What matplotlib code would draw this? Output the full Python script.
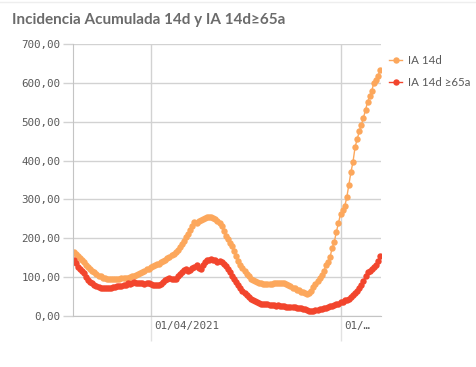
import matplotlib
matplotlib.use("Agg")
import matplotlib.pyplot as plt
import matplotlib.transforms as mtransforms
import pandas as pd

start_date = "2021-02-23"

ia14 = [165, 160, 155, 150, 145, 138, 132, 127, 122, 117,
        112, 108, 104, 102, 99, 97, 96, 95, 94, 95,
        95, 96, 96, 97, 98, 97, 99, 101, 102, 104,
        106, 108, 111, 114, 117, 120, 122, 125, 128, 130,
        133, 135, 138, 141, 145, 148, 152, 156, 160, 164,
        170, 178, 186, 194, 203, 212, 222, 232, 242, 240,
        244, 246, 250, 253, 255, 256, 255, 253, 250, 245,
        239, 232, 220, 207, 198, 189, 181, 168, 155, 142,
        130, 123, 116, 109, 102, 96, 92, 89, 87, 85,
        84, 83, 82, 82, 82, 83, 84, 85, 85, 86,
        85, 84, 82, 79, 76, 73, 71, 68, 66, 63,
        61, 58, 56, 60, 65, 75, 82, 90, 97, 105,
        116, 130, 140, 152, 175, 190, 216, 239, 262, 272,
        282, 305, 337, 370, 397, 435, 455, 475, 492, 510,
        530, 551, 565, 580, 600, 607, 618, 633]

ia14_65 = [145, 136, 126, 120, 115, 110, 100, 93, 88, 84,
           80, 77, 75, 73, 72, 71, 72, 71, 73, 74,
           75, 77, 76, 78, 79, 80, 84, 82, 86, 88,
           84, 86, 84, 85, 83, 86, 84, 82, 81, 79,
           80, 80, 82, 87, 93, 96, 97, 95, 96, 96,
           103, 108, 113, 118, 120, 115, 119, 124, 126, 130,
           124, 122, 132, 138, 143, 145, 146, 144, 145, 140,
           142, 140, 134, 128, 122, 113, 104, 96, 88, 79,
           71, 65, 59, 54, 49, 45, 41, 38, 36, 34,
           32, 31, 31, 30, 29, 29, 28, 27, 28, 26,
           25, 25, 24, 24, 23, 23, 22, 21, 21, 20,
           19, 18, 16, 14, 13, 14, 15, 16, 18, 19,
           20, 21, 23, 25, 27, 28, 30, 32, 35, 37,
           40, 42, 45, 49, 53, 58, 64, 71, 79, 90,
           103, 113, 117, 121, 126, 130, 142, 154]

series_names = ["IA 14d", "IA 14d \u226565a"]
series_colors = ["#fca75c", "#f2452d"]
y_ticks = [0, 100, 200, 300, 400, 500, 600, 700]
y_tick_labels = ["0,00", "100,00", "200,00", "300,00", "400,00", "500,00", "600,00", "700,00"]
x_tick_dates = ["2021-04-01", "2021-07-01"]
x_tick_labels = ["01/04/2021", "01/\u2026"]
title = "Incidencia Acumulada 14d y IA 14d\u226565a"

dates = pd.date_range(start_date, periods=len(ia14), freq="D")

W, H = 476, 367
fig = plt.figure(figsize=(W / 100, H / 100), dpi=100)
ax = fig.add_axes([73 / W, (H - 316) / H, 308 / W, 272 / H])

grid_c = "#d2d2d2"
text_c = "#595959"

for vals, name, col in zip([ia14, ia14_65], series_names, series_colors):
    ax.plot(dates, vals, color=col, lw=1.0, marker="o", markersize=4.6,
            markeredgewidth=0, label=name, clip_on=True)

ax.set_ylim(0, 700)
ax.set_xlim(dates[0] - pd.Timedelta(hours=6), dates[-1] + pd.Timedelta(hours=10))

ax.set_yticks(y_ticks)
ax.set_yticklabels(y_tick_labels, family="DejaVu Sans Mono", fontsize=7.8, color=text_c)
ax.set_xticks(pd.to_datetime(x_tick_dates))
ax.set_xticklabels(x_tick_labels, family="DejaVu Sans Mono", fontsize=7.8,
                   color=text_c, ha="left")

ax.grid(True, axis="both", color=grid_c, lw=1.0)
ax.set_axisbelow(True)
ax.tick_params(axis="y", length=7.2, width=1.0, color=grid_c, pad=2)
ax.tick_params(axis="x", length=18, width=1.0, color="#e2e2e2", pad=-14.5)

offset = mtransforms.ScaledTranslation(4 / 100, 0, fig.dpi_scale_trans)
for lbl in ax.get_xticklabels():
    lbl.set_transform(lbl.get_transform() + offset)

for s in ["top", "right"]:
    ax.spines[s].set_visible(False)
ax.spines["left"].set_color("#c4c4c4")
ax.spines["bottom"].set_color("#c4c4c4")

fig.text(12 / W, 1 - 20 / H, title, fontsize=11, fontweight="bold",
         color="#6b6b6b", va="center", ha="left", family=["Lato", "DejaVu Sans"])

leg = fig.legend(loc="upper left", bbox_to_anchor=(384 / W, 1 - 50 / H),
                 frameon=False, labelcolor=text_c,
                 handlelength=1.2, handletextpad=0.5, labelspacing=1.0,
                 borderaxespad=0.0,
                 prop={"family": ["Lato", "DejaVu Sans"], "size": 8.3})

fig.add_artist(plt.Line2D([0, 1], [1 - 1.5 / H, 1 - 1.5 / H], color="#eeeeee", lw=1,
                          transform=fig.transFigure))

fig.savefig("out.png", dpi=100)
